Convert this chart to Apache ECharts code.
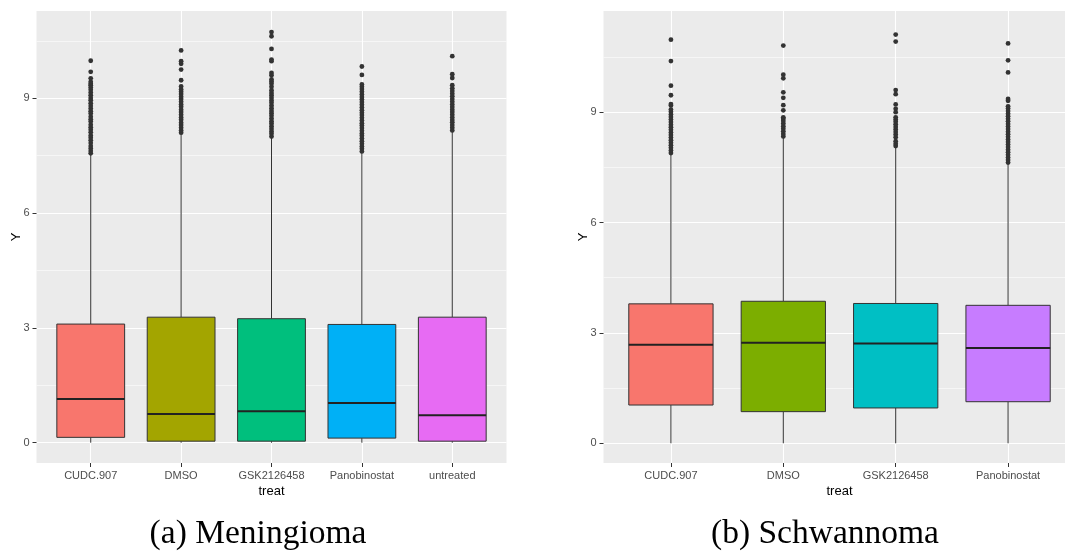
<!DOCTYPE html>
<html>
<head>
<meta charset="utf-8">
<script src="https://cdn.jsdelivr.net/npm/echarts@6/dist/echarts.min.js"></script>
<style>
  html, body { margin: 0; padding: 0; background: #ffffff; }
  #chart { width: 1065px; height: 553px; }
</style>
</head>
<body>
<div id="chart"></div>
<script>
// ---- Meningioma ----
const meningiomaTreat = ['CUDC.907', 'DMSO', 'GSK2126458', 'Panobinostat', 'untreated'];
// [lower whisker, Q1, median, Q3, upper whisker]
const meningiomaBoxes = [
  [0, 0.14, 1.14, 3.10, 7.52],
  [0, 0.04, 0.75, 3.28, 8.07],
  [0, 0.04, 0.82, 3.24, 7.97],
  [0, 0.12, 1.04, 3.09, 7.58],
  [0, 0.04, 0.72, 3.28, 8.13]
];
const meningiomaOutliers = [
  [7.56, 7.62, 7.69, 7.75, 7.83, 7.90, 7.97, 8.03, 8.11, 8.18, 8.24, 8.31, 8.39, 8.45, 8.52, 8.60, 8.66, 8.73,
   8.80, 8.87, 8.95, 9.01, 9.08, 9.15, 9.22, 9.28, 9.34, 9.38, 9.43, 9.52, 9.69, 9.98],
  [8.10, 8.16, 8.23, 8.30, 8.36, 8.44, 8.50, 8.57, 8.64, 8.70, 8.78, 8.84, 8.91, 8.98, 9.04, 9.11, 9.17, 9.23,
   9.31, 9.47, 9.75, 9.90, 9.97, 10.25],
  [8.00, 8.07, 8.13, 8.20, 8.27, 8.34, 8.40, 8.47, 8.54, 8.61, 8.67, 8.74, 8.81, 8.88, 8.94, 9.01, 9.08, 9.14,
   9.21, 9.30, 9.38, 9.44, 9.49, 9.60, 9.66, 9.97, 10.01, 10.29, 10.62, 10.73],
  [7.61, 7.68, 7.74, 7.81, 7.88, 7.95, 8.02, 8.08, 8.15, 8.22, 8.29, 8.35, 8.42, 8.49, 8.56, 8.62, 8.69, 8.76,
   8.83, 8.90, 8.97, 9.03, 9.10, 9.17, 9.24, 9.30, 9.36, 9.61, 9.83],
  [8.16, 8.23, 8.30, 8.37, 8.43, 8.50, 8.57, 8.64, 8.70, 8.77, 8.84, 8.91, 8.98, 9.05, 9.12, 9.19, 9.26, 9.34,
   9.53, 9.63, 10.10]
];

// ---- Schwannoma ----
const schwannomaTreat = ['CUDC.907', 'DMSO', 'GSK2126458', 'Panobinostat'];
const schwannomaBoxes = [
  [0, 1.04, 2.68, 3.79, 7.87],
  [0, 0.86, 2.73, 3.86, 8.32],
  [0, 0.96, 2.71, 3.80, 8.04],
  [0, 1.13, 2.59, 3.75, 7.61]
];
const schwannomaOutliers = [
  [7.89, 7.96, 8.03, 8.10, 8.17, 8.24, 8.31, 8.38, 8.45, 8.52, 8.59, 8.66, 8.73, 8.80, 8.87, 8.94, 9.01, 9.07,
   9.18, 9.22, 9.46, 9.72, 10.39, 10.97],
  [8.34, 8.41, 8.48, 8.55, 8.62, 8.69, 8.76, 8.82, 8.86, 9.05, 9.19, 9.39, 9.54, 9.92, 10.02, 10.81],
  [8.08, 8.14, 8.21, 8.32, 8.39, 8.46, 8.53, 8.60, 8.67, 8.74, 8.80, 8.86, 9.00, 9.09, 9.21, 9.49, 9.60,
   10.92, 11.11],
  [7.63, 7.70, 7.77, 7.84, 7.91, 7.98, 8.05, 8.12, 8.19, 8.26, 8.33, 8.40, 8.47, 8.54, 8.61, 8.68, 8.75, 8.82,
   8.89, 8.96, 9.03, 9.10, 9.16, 9.31, 9.36, 10.08, 10.41, 10.87]
];

const yMajorTicks = [0, 3, 6, 9];
const yMinorTicks = [1.5, 4.5, 7.5, 10.5];

const meningiomaFill = ['#F8766D', '#A3A500', '#00BF7D', '#00B0F6', '#E76BF3'];
const schwannomaFill = ['#F8766D', '#7CAE00', '#00BFC4', '#C77CFF'];

const sansFont = '"Liberation Sans", Arial, sans-serif';
const inkDark = '#333333';

function boxRenderer(fills) {
  return function (params, api) {
    const x = api.value(0);
    const lo = api.coord([x, api.value(1)]);
    const q1 = api.coord([x, api.value(2)]);
    const md = api.coord([x, api.value(3)]);
    const q3 = api.coord([x, api.value(4)]);
    const hi = api.coord([x, api.value(5)]);
    const half = api.size([0.75, 0])[0] / 2;
    return {
      type: 'group',
      children: [
        { type: 'line', shape: { x1: lo[0], y1: lo[1], x2: q1[0], y2: q1[1] },
          style: { stroke: inkDark, lineWidth: 1 } },
        { type: 'line', shape: { x1: q3[0], y1: q3[1], x2: hi[0], y2: hi[1] },
          style: { stroke: inkDark, lineWidth: 1 } },
        { type: 'rect', shape: { x: q3[0] - half, y: q3[1], width: half * 2, height: q1[1] - q3[1] },
          style: { fill: fills[params.dataIndex], stroke: inkDark, lineWidth: 1 } },
        { type: 'line', shape: { x1: md[0] - half, y1: md[1], x2: md[0] + half, y2: md[1] },
          style: { stroke: '#222222', lineWidth: 2 } }
      ]
    };
  };
}

const grids = [];
const xAxes = [];
const yAxes = [];
const series = [];

function addPanel(g, layout, treat, boxes, outliers, fills, yMin, yMax) {
  grids.push(Object.assign({
    show: true, backgroundColor: '#EBEBEB', borderWidth: 0, outerBoundsMode: 'none'
  }, layout));

  const idx = treat.map((_, i) => i);
  xAxes.push({
    type: 'value', gridIndex: g, position: 'bottom', min: -0.6, max: treat.length - 0.4,
    name: 'treat', nameLocation: 'middle', nameGap: 22, nameMoveOverlap: false,
    nameTextStyle: { fontFamily: sansFont, fontSize: 13, color: '#000000' },
    axisLine: { show: false, onZero: false },
    axisTick: { show: true, length: 4, customValues: idx, lineStyle: { color: inkDark, width: 1 } },
    axisLabel: { customValues: idx, margin: 7, fontFamily: sansFont, fontSize: 11, color: '#4D4D4D',
      formatter: v => treat[Math.round(v)] },
    splitLine: { show: true, lineStyle: { color: '#FFFFFF', width: 1.1 } }
  });

  // major grid lines with labels
  yAxes.push({
    type: 'value', gridIndex: g, position: 'left', min: yMin, max: yMax,
    name: 'Y', nameLocation: 'middle', nameGap: 14, nameRotate: 90, nameMoveOverlap: false,
    nameTextStyle: { fontFamily: sansFont, fontSize: 13, color: '#000000' },
    axisLine: { show: false, onZero: false },
    axisTick: { show: true, length: 4, customValues: yMajorTicks, lineStyle: { color: inkDark, width: 1 } },
    axisLabel: { customValues: yMajorTicks, margin: 7, fontFamily: sansFont, fontSize: 11, color: '#4D4D4D' },
    splitLine: { show: true, lineStyle: { color: '#FFFFFF', width: 1.1 } }
  });
  // minor grid lines
  yAxes.push({
    type: 'value', gridIndex: g, position: 'left', min: yMin, max: yMax,
    axisLine: { show: false, onZero: false },
    axisTick: { show: false, customValues: yMinorTicks },
    axisLabel: { show: false, customValues: yMinorTicks },
    splitLine: { show: true, lineStyle: { color: '#FFFFFF', width: 0.55 } }
  });
  const yMajorIndex = yAxes.length - 2;

  series.push({
    type: 'custom', xAxisIndex: g, yAxisIndex: yMajorIndex,
    renderItem: boxRenderer(fills),
    encode: { x: 0, y: [1, 2, 3, 4, 5] },
    data: boxes.map((b, i) => [i].concat(b)),
    z: 3, silent: true
  });

  const pts = [];
  outliers.forEach((list, i) => list.forEach(v => pts.push([i, v])));
  series.push({
    type: 'scatter', xAxisIndex: g, yAxisIndex: yMajorIndex,
    data: pts, symbol: 'circle', symbolSize: 4.8,
    itemStyle: { color: inkDark, opacity: 1 },
    z: 4, silent: true
  });
}

addPanel(0, { left: 36.5, top: 11, width: 470, height: 452 },
  meningiomaTreat, meningiomaBoxes, meningiomaOutliers, meningiomaFill, -0.53, 11.28);
addPanel(1, { left: 603.5, top: 11, width: 472, height: 452 },
  schwannomaTreat, schwannomaBoxes, schwannomaOutliers, schwannomaFill, -0.536, 11.75);

const captionFont = '33.5px "Liberation Serif", "Times New Roman", serif';

const chart = echarts.init(document.getElementById('chart'), null, { renderer: 'canvas' });
chart.setOption({
  animation: false,
  backgroundColor: '#ffffff',
  grid: grids,
  xAxis: xAxes,
  yAxis: yAxes,
  series: series,
  graphic: [
    { type: 'text', x: 258, y: 534,
      style: { text: '(a) Meningioma', font: captionFont,
        fill: '#000000', align: 'center', verticalAlign: 'middle' } },
    { type: 'text', x: 825, y: 534,
      style: { text: '(b) Schwannoma', font: captionFont,
        fill: '#000000', align: 'center', verticalAlign: 'middle' } }
  ]
});
</script>
</body>
</html>
